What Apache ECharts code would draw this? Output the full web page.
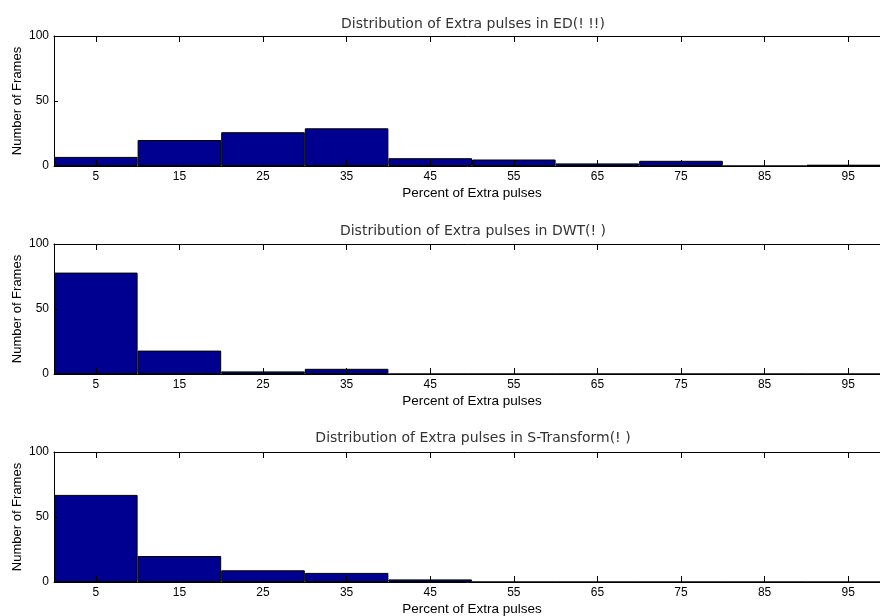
<!DOCTYPE html>
<html>
<head>
<meta charset="utf-8">
<script src="https://cdn.jsdelivr.net/npm/echarts@6/dist/echarts.min.js"></script>
<style>html,body{margin:0;padding:0;background:#fff}#c{width:880px;height:616px}</style>
</head>
<body>
<div id="c"></div>
<script>
var categories = ['5','15','25','35','45','55','65','75','85','95'];
var edValues = [7, 20, 26, 29, 6, 5, 2, 4, 0, 1];
var dwtValues = [78, 18, 2, 4, 0, 0, 0, 0, 0, 0];
var stValues = [67, 20, 9, 7, 2, 0, 0, 0, 0, 0];
var titles = ['Distribution of Extra pulses in ED(! !!)', 'Distribution of Extra pulses in DWT(! )', 'Distribution of Extra pulses in S-Transform(! )'];
var yTicks = [0, 50, 100];
var xName = 'Percent of Extra pulses';
var yName = 'Number of Frames';

var chart = echarts.init(document.getElementById('c'));
var grids = [
  {left: 54, top: 36, width: 836, height: 130, outerBoundsMode: 'none', containLabel: false},
  {left: 54, top: 244, width: 836, height: 130, outerBoundsMode: 'none', containLabel: false},
  {left: 54, top: 452, width: 836, height: 130, outerBoundsMode: 'none', containLabel: false}
];
var titleTops = [12, 219, 426];
var seriesData = [edValues, dwtValues, stValues];
var font = 'Liberation Sans, Arial, sans-serif';
var option = {
  animation: false,
  title: titles.map(function (t, i) {
    return {text: t, left: 468, top: titleTops[i], textAlign: 'center',
      textStyle: {fontFamily: 'DejaVu Sans', fontSize: 14, fontWeight: 'normal', color: '#333'}};
  }),
  grid: grids,
  xAxis: [],
  yAxis: [],
  series: []
};
for (var i = 0; i < 3; i++) {
  option.xAxis.push({
    type: 'category', gridIndex: i, data: categories, position: 'bottom', z: 5,
    name: xName, nameLocation: 'middle', nameGap: 20, nameMoveOverlap: false,
    nameTextStyle: {fontFamily: font, fontSize: 13.5, color: '#000'},
    axisLine: {show: true, lineStyle: {color: '#000', width: 1}},
    axisTick: {show: true, inside: true, alignWithLabel: true, length: 6, lineStyle: {color: '#000', width: 1}},
    axisLabel: {show: true, fontFamily: font, fontSize: 12, color: '#000', margin: 5},
    splitLine: {show: false}
  });
  option.xAxis.push({
    type: 'category', gridIndex: i, data: categories, position: 'top', z: 5,
    axisLine: {show: true, lineStyle: {color: '#000', width: 1}},
    axisTick: {show: true, inside: true, alignWithLabel: true, length: 6, lineStyle: {color: '#000', width: 1}},
    axisLabel: {show: false},
    splitLine: {show: false}
  });
  option.yAxis.push({
    type: 'value', gridIndex: i, min: yTicks[0], max: yTicks[2], interval: 50, z: 5,
    name: yName, nameLocation: 'middle', nameGap: 30, nameRotate: 90, nameMoveOverlap: false,
    nameTextStyle: {fontFamily: font, fontSize: 13, color: '#000'},
    axisLine: {show: true, lineStyle: {color: '#000', width: 1}},
    axisTick: {show: true, inside: true, length: 4, lineStyle: {color: '#000', width: 1}},
    axisLabel: {fontFamily: font, fontSize: 12, color: '#000', margin: 5},
    splitLine: {show: false}
  });
  option.series.push({
    type: 'bar', xAxisIndex: i * 2, yAxisIndex: i, data: seriesData[i],
    barWidth: '100%', barGap: '0%', barCategoryGap: '0%',
    itemStyle: {color: '#000090', borderColor: '#000', borderWidth: 1},
    silent: true
  });
}
chart.setOption(option);
</script>
</body>
</html>
